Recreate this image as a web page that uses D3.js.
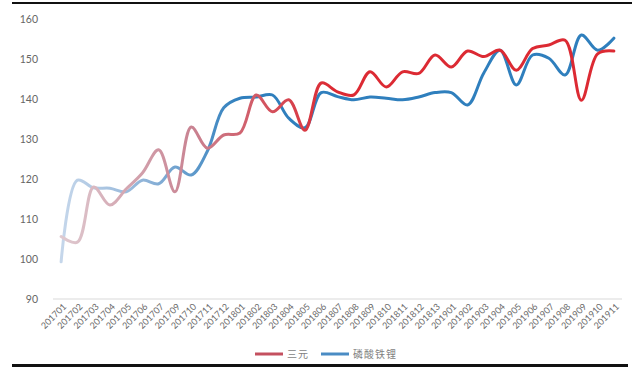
<!DOCTYPE html>
<html><head><meta charset="utf-8">
<script src="https://cdn.jsdelivr.net/npm/d3@7"></script>
<style>html,body{margin:0;padding:0;background:#fff;}svg{display:block;}</style>
</head><body>
<svg id="c" width="640" height="369"></svg>
<script>
const categories = ["201701","201702","201703","201704","201705","201706","201707","201709","201710","201711","201712",
"201801","201802","201803","201804","201805","201806","201807","201808","201809","201810","201811","201812","201813",
"201901","201902","201903","201904","201905","201906","201907","201908","201909","201910","201911"];
const sanyuan = [105.6,104.2,118,113.5,117.5,121.5,127.3,116.8,133,127.7,131,131.5,141,136.8,139.8,132.2,144,141.8,141,146.8,143,146.8,146.4,151,148,152,150.6,152.2,147.2,152.6,153.5,154.7,139.7,151.3,152];
const lfp = [99.3,119.7,117.8,117.7,116.8,119.7,118.8,123,121,127,137.8,140.2,140.5,141,135.2,132.8,141.6,140.6,139.8,140.5,140.2,139.8,140.5,141.6,141.6,138.5,146.5,152.2,143.5,151,150.2,146,156,152.2,155.2];
const yTicks = [90,100,110,120,130,140,150,160];
const seriesNames = ["三元","磷酸铁锂"];

const svg = d3.select("#c");
const x = d3.scalePoint().domain(categories).range([53,622]).padding(0.5);
const y = d3.scaleLinear().domain([90,160]).range([299,19]);

// frame lines
svg.append("rect").attr("x",12).attr("y",2).attr("width",620).attr("height",2).attr("fill","#111");
svg.append("rect").attr("x",12).attr("y",364).attr("width",616).attr("height",3).attr("fill","#111");

// gradients
const defs = svg.append("defs");
function grad(id, x2, c0, c1, c2){
  const g = defs.append("linearGradient").attr("id",id).attr("gradientUnits","userSpaceOnUse")
    .attr("x1",55).attr("y1",0).attr("x2",x2).attr("y2",0);
  g.append("stop").attr("offset","0").attr("stop-color",c0);
  g.append("stop").attr("offset","0.5").attr("stop-color",c1);
  g.append("stop").attr("offset","1").attr("stop-color",c2);
}
grad("gr",330,"#e0cdd3","#c98392","#dc2a33");
grad("gb",240,"#c9d9ec","#8eb3d8","#2f7fbd");

// baseline grid
svg.append("line").attr("x1",53).attr("x2",622).attr("y1",y(90)).attr("y2",y(90))
  .attr("stroke","#d9d9d9").attr("stroke-width",1);

// y axis labels
const yAxis = d3.axisLeft(y).tickValues(yTicks).tickSize(0).tickPadding(0);
const ya = svg.append("g").attr("transform","translate(38,0)").call(yAxis);
ya.select(".domain").remove();
ya.selectAll("text").attr("fill","#666").attr("font-size","10.5px").attr("font-family","Lato, 'Open Sans', sans-serif");

// x axis labels
const xAxis = d3.axisBottom(x).tickSize(0).tickPadding(0);
const xa = svg.append("g").attr("transform","translate(0,303)").call(xAxis);
xa.select(".domain").remove();
xa.selectAll("text").attr("fill","#6a6a6a").attr("font-size","9px").attr("font-family","Lato, 'Open Sans', sans-serif")
  .attr("text-anchor","end").attr("dy","0.35em").attr("dx","0")
  .attr("transform","translate(3,2) rotate(-45)");

// lines
const line = d3.line().x((d,i)=>x(categories[i])).y(d=>y(d)).curve(d3.curveCatmullRom.alpha(0.5));
svg.append("path").attr("d",line(lfp)).attr("fill","none").attr("stroke","url(#gb)").attr("stroke-width",3).attr("stroke-linejoin","round").attr("stroke-linecap","round");
svg.append("path").attr("d",line(sanyuan)).attr("fill","none").attr("stroke","url(#gr)").attr("stroke-width",3).attr("stroke-linejoin","round").attr("stroke-linecap","round");

// legend
const leg = [{n:seriesNames[0],c:"#c4505f",x:255},{n:seriesNames[1],c:"#4a8cc4",x:321}];
leg.forEach(l=>{
  svg.append("line").attr("x1",l.x).attr("x2",l.x+28).attr("y1",354).attr("y2",354).attr("stroke",l.c).attr("stroke-width",3);
  svg.append("text").attr("x",l.x+32).attr("y",358).text(l.n).attr("fill","#7f7f7f").attr("font-size","10px")
    .attr("font-family","'Noto Sans CJK SC', sans-serif").attr("letter-spacing","1px");
});
</script>
</body></html>
